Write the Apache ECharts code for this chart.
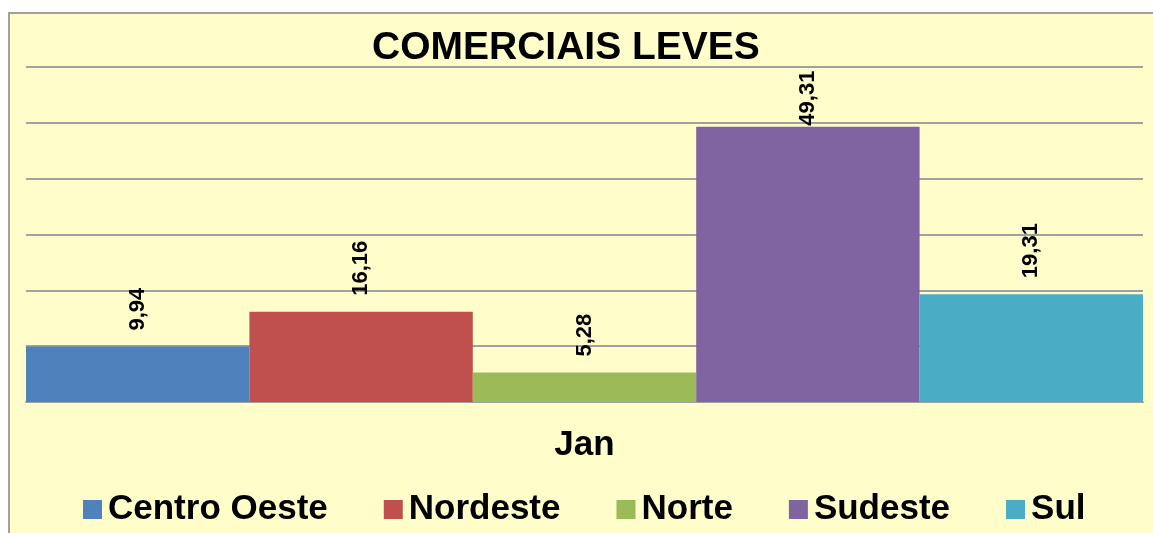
<!DOCTYPE html>
<html>
<head>
<meta charset="utf-8">
<script src="https://cdn.jsdelivr.net/npm/echarts@6/dist/echarts.min.js"></script>
<style>
    html, body { margin: 0; padding: 0; background: #fff; }
    .frame {
        position: absolute; left: 8px; top: 12px; width: 1200px; height: 600px;
        background: #FFFDCA; border: 2px solid #a0a0a0;
    }
    #chart { position: absolute; left: 0; top: 0; width: 1153px; height: 533px; }
</style>
</head>
<body>
<div class="frame"></div>
<div id="chart"></div>
<script>
    // dados
    const categories = ['Jan'];
    const regions = ['Centro Oeste', 'Nordeste', 'Norte', 'Sudeste', 'Sul'];
    const values = [9.94, 16.16, 5.28, 49.31, 19.31];
    const colors = ['#4F81BD', '#C0504D', '#9BBB59', '#8064A2', '#4BACC6'];
    const yTicks = [0, 10, 20, 30, 40, 50, 60];

    const font = 'Liberation Sans, Arial, sans-serif';
    const yMax = yTicks[yTicks.length - 1];

    var myChart = echarts.init(document.getElementById('chart'));
    var option = {
        backgroundColor: 'transparent',
        animation: false,
        title: {
            text: 'COMERCIAIS LEVES',
            left: 367,
            top: 24,
            textStyle: {fontFamily: font, fontSize: 39, fontWeight: 'bold', color: '#000'}
        },
        legend: {
            data: regions,
            left: 78,
            top: 487,
            itemWidth: 19,
            itemHeight: 19,
            itemGap: 56,
            icon: 'rect',
            textStyle: {fontFamily: font, fontSize: 35, fontWeight: 'bold', color: '#000', padding: [0, 0, 0, 1]}
        },
        grid: {left: 26, right: 10, top: 67, bottom: 131},
        xAxis: {
            type: 'category',
            data: categories,
            axisLine: {lineStyle: {color: '#a0a0a0', width: 2}},
            axisTick: {length: 9, lineStyle: {color: '#a0a0a0', width: 2}},
            axisLabel: {margin: 26, fontFamily: font, fontSize: 35, fontWeight: 'bold', color: '#000'}
        },
        yAxis: {
            type: 'value',
            min: 0,
            max: yMax,
            interval: 10,
            axisLine: {show: false},
            axisTick: {show: false},
            axisLabel: {show: false},
            splitLine: {lineStyle: {color: '#a0a0a0', width: 2}}
        },
        series: regions.map((name, i) => ({
            name: name,
            type: 'bar',
            barGap: '0%',
            barCategoryGap: '0%',
            itemStyle: {color: colors[i]},
            label: {
                show: true,
                position: 'top',
                rotate: 90,
                align: 'left',
                verticalAlign: 'middle',
                // como no Excel, o rótulo não passa do topo da área do gráfico
                distance: values[i] > 45 ? 1 : 16,
                fontFamily: font,
                fontSize: 22,
                fontWeight: 'bold',
                color: '#000',
                formatter: p => p.value.toFixed(2).replace('.', ',')
            },
            data: [values[i]]
        }))
    };
    option && myChart.setOption(option);
</script>
</body>
</html>
